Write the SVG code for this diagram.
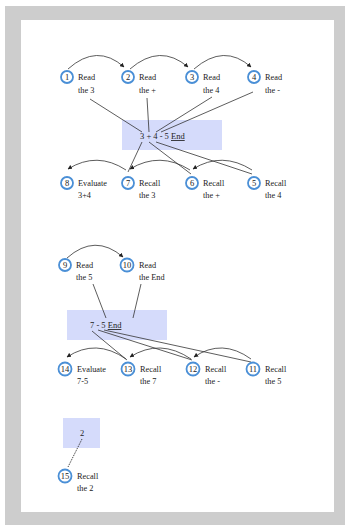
<svg xmlns="http://www.w3.org/2000/svg" width="350" height="527" viewBox="0 0 350 527">
<defs>
<marker id="ah" viewBox="0 0 10 10" refX="9" refY="5" markerWidth="4.5" markerHeight="4.5" orient="auto-start-reverse" markerUnits="userSpaceOnUse">
<path d="M0,0 L10,5 L0,10 z" fill="#222"/>
</marker>
<style>
.nd circle{fill:#fff;stroke:#4a8fd6;stroke-width:1.8}
.num{font-family:"Liberation Serif",serif;font-size:8.5px;fill:#222;text-anchor:middle}
.lb{font-family:"Liberation Serif",serif;font-size:8.3px;fill:#222}
.box{fill:#d5dbfb}
.ex{font-family:"Liberation Serif",serif;font-size:8.5px;fill:#222}
.arc{fill:none;stroke:#333;stroke-width:0.8;marker-end:url(#ah)}
.ln{fill:none;stroke:#333;stroke-width:0.8}
.dl{fill:none;stroke:#333;stroke-width:0.9;stroke-dasharray:1.5 1}
</style>
</defs>
<rect x="0" y="0" width="350" height="527" fill="#fff"/>
<rect x="5" y="6" width="340" height="519" fill="#cdcdcd"/>
<rect x="21" y="20" width="313" height="492" fill="#fff"/>

<g id="boxes">
<g id="box1"><rect class="box" x="122" y="120" width="100" height="30"/><text class="ex" x="140" y="139">3 + 4 - 5 <tspan text-decoration="underline">End</tspan></text></g>
<g id="box2"><rect class="box" x="67" y="310" width="100" height="30"/><text class="ex" x="90" y="328">7 - 5 <tspan text-decoration="underline">End</tspan></text></g>
<g id="box3"><rect class="box" x="63" y="418" width="37" height="30"/><text class="ex" x="80" y="436">2</text></g>
</g>

<g id="connectors">
<path class="arc" d="M68,69 Q97,43 124,67"/>
<path class="arc" d="M130,69 Q160,43 188,67"/>
<path class="arc" d="M194,69 Q224,43 251,67"/>
<path class="arc" d="M126,170 Q97,151 68,169"/>
<path class="arc" d="M190,170 Q160,151 130,169"/>
<path class="arc" d="M252,170 Q222,151 193,169"/>
<path class="arc" d="M67,258 Q95,233 123,257"/>
<path class="arc" d="M126,359 Q96,338 67,357"/>
<path class="arc" d="M191,359 Q160,338 130,357"/>
<path class="arc" d="M251,359 Q222,338 194,357"/>
<line class="ln" x1="90" y1="99" x2="142" y2="132"/>
<line class="ln" x1="147" y1="98" x2="149" y2="132"/>
<line class="ln" x1="212" y1="97" x2="156" y2="132"/>
<line class="ln" x1="253" y1="92" x2="161" y2="132"/>
<line class="ln" x1="142" y1="142" x2="128" y2="172"/>
<line class="ln" x1="149" y1="142" x2="191" y2="174"/>
<line class="ln" x1="156" y1="142" x2="252" y2="174"/>
<line class="ln" x1="93" y1="284" x2="106" y2="318"/>
<line class="ln" x1="141" y1="284" x2="133" y2="318"/>
<line class="ln" x1="92" y1="331" x2="127" y2="360"/>
<line class="ln" x1="98" y1="330" x2="192" y2="360"/>
<line class="ln" x1="104" y1="330" x2="251" y2="362"/>
<line class="dl" x1="82" y1="439" x2="68" y2="467"/>
</g>

<g id="n1" class="nd"><circle cx="67" cy="77" r="6"/><text class="num" x="67" y="80">1</text><text class="lb" x="78" y="80">Read</text><text class="lb" x="78" y="93">the 3</text></g>
<g id="n2" class="nd"><circle cx="128" cy="77" r="6"/><text class="num" x="128" y="80">2</text><text class="lb" x="139" y="80">Read</text><text class="lb" x="139" y="93">the +</text></g>
<g id="n3" class="nd"><circle cx="192" cy="77" r="6"/><text class="num" x="192" y="80">3</text><text class="lb" x="203" y="80">Read</text><text class="lb" x="203" y="93">the 4</text></g>
<g id="n4" class="nd"><circle cx="254" cy="77" r="6"/><text class="num" x="254" y="80">4</text><text class="lb" x="265" y="80">Read</text><text class="lb" x="265" y="93">the -</text></g>

<g id="n8" class="nd"><circle cx="67" cy="183" r="6"/><text class="num" x="67" y="186">8</text><text class="lb" x="78" y="186">Evaluate</text><text class="lb" x="78" y="198">3+4</text></g>
<g id="n7" class="nd"><circle cx="128" cy="183" r="6"/><text class="num" x="128" y="186">7</text><text class="lb" x="139" y="186">Recall</text><text class="lb" x="139" y="198">the 3</text></g>
<g id="n6" class="nd"><circle cx="192" cy="183" r="6"/><text class="num" x="192" y="186">6</text><text class="lb" x="203" y="186">Recall</text><text class="lb" x="203" y="198">the +</text></g>
<g id="n5" class="nd"><circle cx="254" cy="183" r="6"/><text class="num" x="254" y="186">5</text><text class="lb" x="265" y="186">Recall</text><text class="lb" x="265" y="198">the 4</text></g>

<g id="n9" class="nd"><circle cx="65" cy="265" r="6"/><text class="num" x="65" y="268">9</text><text class="lb" x="76" y="268">Read</text><text class="lb" x="76" y="280">the 5</text></g>
<g id="n10" class="nd"><circle cx="127" cy="265" r="6.5"/><text class="num" x="127" y="268">10</text><text class="lb" x="139" y="268">Read</text><text class="lb" x="139" y="280">the End</text></g>

<g id="n14" class="nd"><circle cx="65" cy="369" r="6.5"/><text class="num" x="65" y="372">14</text><text class="lb" x="77" y="372">Evaluate</text><text class="lb" x="77" y="384">7-5</text></g>
<g id="n13" class="nd"><circle cx="128" cy="369" r="6.5"/><text class="num" x="128" y="372">13</text><text class="lb" x="140" y="372">Recall</text><text class="lb" x="140" y="384">the 7</text></g>
<g id="n12" class="nd"><circle cx="193" cy="369" r="6.5"/><text class="num" x="193" y="372">12</text><text class="lb" x="205" y="372">Recall</text><text class="lb" x="205" y="384">the -</text></g>
<g id="n11" class="nd"><circle cx="253" cy="369" r="6.5"/><text class="num" x="253" y="372">11</text><text class="lb" x="265" y="372">Recall</text><text class="lb" x="265" y="384">the 5</text></g>

<g id="n15" class="nd"><circle cx="65" cy="476" r="6.5"/><text class="num" x="65" y="479">15</text><text class="lb" x="77" y="479">Recall</text><text class="lb" x="77" y="491">the 2</text></g>
</svg>
